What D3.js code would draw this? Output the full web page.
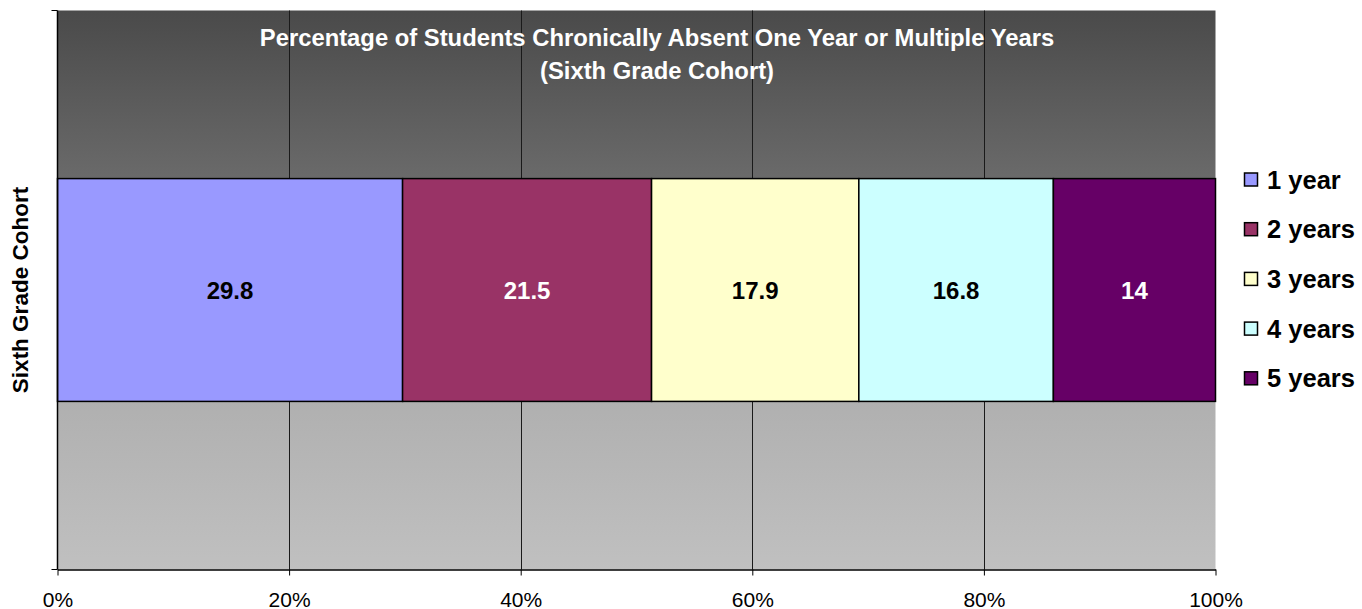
<!DOCTYPE html>
<html><head><meta charset="utf-8">
<script src="https://cdn.jsdelivr.net/npm/d3@7"></script>
<style>body{margin:0;background:#fff;}svg{display:block;font-family:"Liberation Sans",Arial,sans-serif;}</style>
</head><body><svg id="c" width="1362" height="609"></svg>
<script>
const titleLines = ["Percentage of Students Chronically Absent One Year or Multiple Years", "(Sixth Grade Cohort)"];
const category = "Sixth Grade Cohort";
const seriesNames = ["1 year", "2 years", "3 years", "4 years", "5 years"];
const seriesValues = [29.8, 21.5, 17.9, 16.8, 14];
const seriesColors = ["#9999FF", "#993366", "#FFFFCC", "#CCFFFF", "#660066"];
const labelColors = ["#000", "#fff", "#000", "#000", "#fff"];
const xTicks = [0, 20, 40, 60, 80, 100];

const svg = d3.select("#c");
const L = 57.5, R = 1215.5, T = 10.5, B = 569.5;
const x = d3.scaleLinear().domain([0, 100]).range([L, R]);
const y = d3.scaleBand().domain([category]).range([T, B]).padding(0.43);

const defs = svg.append("defs");
const g = defs.append("linearGradient").attr("id", "bg").attr("x1", 0).attr("y1", 0).attr("x2", 0).attr("y2", 1);
[[0, "#4a4a4a"], [0.3, "#6a6a6a"], [0.7, "#b0b0b0"], [1, "#c0c0c0"]].forEach(s => g.append("stop").attr("offset", s[0]).attr("stop-color", s[1]));

svg.append("rect").attr("x", L).attr("y", T).attr("width", R - L).attr("height", B - T).attr("fill", "url(#bg)");

// gridlines
svg.append("g").selectAll("line").data(xTicks.slice(1, -1)).join("line")
  .attr("x1", d => Math.round(x(d)) + 0.5).attr("x2", d => Math.round(x(d)) + 0.5)
  .attr("y1", T).attr("y2", B).attr("stroke", "#1a1a1a").attr("stroke-width", 1);

// stacked bar
const stackData = [Object.fromEntries(seriesNames.map((n, i) => [n, seriesValues[i]]))];
const stacked = d3.stack().keys(seriesNames)(stackData);
const barTop = y(category), barH = y.bandwidth();
const segs = svg.append("g").selectAll("g").data(stacked).join("g");
segs.append("rect")
  .attr("x", d => x(d[0][0])).attr("width", d => x(d[0][1]) - x(d[0][0]))
  .attr("y", barTop).attr("height", barH)
  .attr("fill", (d, i) => seriesColors[i]).attr("stroke", "#000").attr("stroke-width", 1.5);
segs.append("text")
  .attr("x", d => (x(d[0][0]) + x(d[0][1])) / 2).attr("y", barTop + barH / 2)
  .attr("dy", "0.36em").attr("text-anchor", "middle")
  .attr("font-size", 24).attr("font-weight", "bold")
  .attr("fill", (d, i) => labelColors[i])
  .text((d, i) => seriesValues[i]);

// axes
const xAxis = d3.axisBottom(x).tickValues(xTicks).tickFormat(d => d + "%").tickSize(6).tickSizeOuter(0);
const ax = svg.append("g").attr("transform", `translate(0,${B})`).call(xAxis);
ax.select(".domain").attr("stroke", "#000").attr("stroke-width", 1.5);
ax.selectAll(".tick line").attr("stroke", "#000");
ax.selectAll("text").attr("font-size", 21).attr("fill", "#000").attr("dy", null).attr("y", 37).attr("font-family", "Liberation Sans, Arial, sans-serif");

const yAxisG = svg.append("g");
yAxisG.append("line").attr("x1", L).attr("x2", L).attr("y1", T).attr("y2", B).attr("stroke", "#000").attr("stroke-width", 1.5);
yAxisG.selectAll("line.t").data([T, B]).join("line").attr("class", "t")
  .attr("x1", L - 6).attr("x2", L).attr("y1", d => d).attr("y2", d => d).attr("stroke", "#000");

// title
svg.append("g").selectAll("text").data(titleLines).join("text")
  .attr("x", 657).attr("y", (d, i) => 45.5 + i * 33).attr("text-anchor", "middle")
  .attr("font-size", 23.8).attr("font-weight", "bold").attr("fill", "#fff").text(d => d);

// y label
svg.append("text").attr("transform", `translate(28,${(T + B) / 2}) rotate(-90)`)
  .attr("text-anchor", "middle").attr("font-size", 22.5).attr("font-weight", "bold").attr("fill", "#000").text(category);

// legend
const lg = svg.append("g").selectAll("g").data(seriesNames).join("g")
  .attr("transform", (d, i) => `translate(1244,${179.5 + i * 49.7})`);
lg.append("rect").attr("x", 0.5).attr("y", -6.5).attr("width", 13).attr("height", 13)
  .attr("fill", (d, i) => seriesColors[i]).attr("stroke", "#000").attr("stroke-width", 1.5);
lg.append("text").attr("x", 23).attr("dy", "0.36em").attr("font-size", 25.5).attr("font-weight", "bold").attr("fill", "#000").text(d => d);
</script></body></html>
